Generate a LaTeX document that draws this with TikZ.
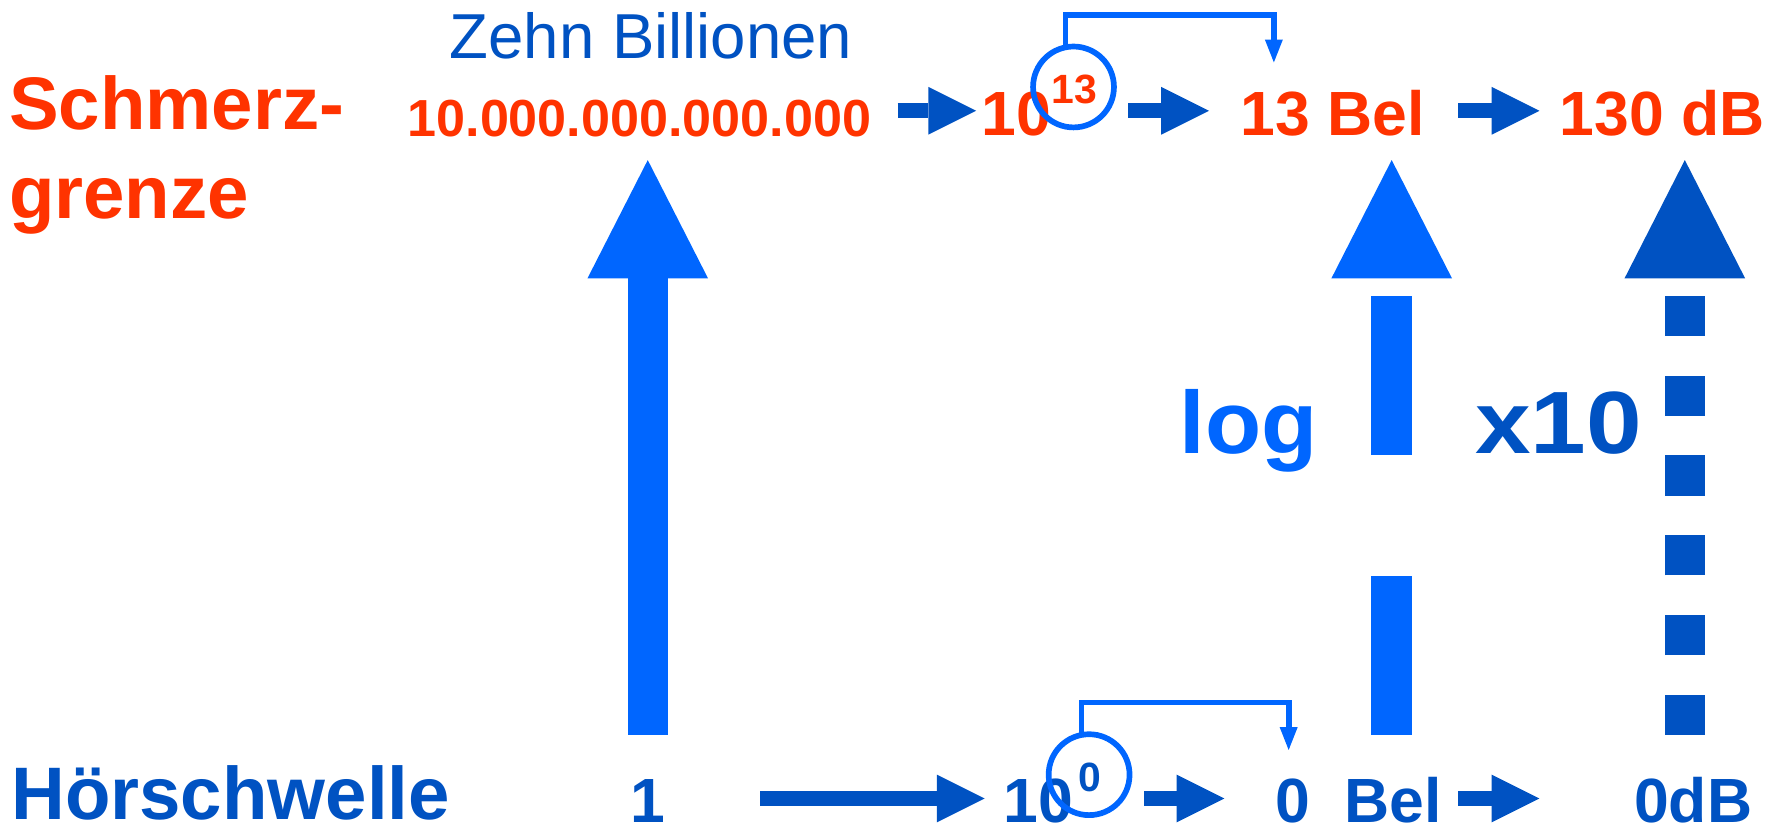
\documentclass[tikz,border=0pt]{standalone}
\usepackage{fontspec}
\usepackage{graphicx}
\setmainfont{Liberation Sans}
\usetikzlibrary{arrows.meta}
\definecolor{alarmred}{RGB}{255,51,0}
\definecolor{deepblue}{RGB}{0,82,194}
\definecolor{brightblue}{RGB}{0,102,255}
\newcommand{\sizept}[1]{\fontsize{#1pt}{#1pt}\selectfont}
\begin{document}
\begin{tikzpicture}[x=0.0228cm, y=-0.0228cm,
    every node/.style={inner sep=0pt, outer sep=0pt, font=\bfseries},
    side/.style={anchor=base west, font=\bfseries\sizept{42.4}},
    val/.style={anchor=base west, text height=0.97cm, text depth=0pt, font=\bfseries\sizept{35.6}},
    expo/.style={anchor=base west, font=\bfseries\sizept{23.3}},
    ring/.style={circle, draw=brightblue, line width=0.114cm, minimum size=1.62cm},
    flow/.style={deepblue, line width=0.308cm, -{Triangle[length=0.958cm, width=0.958cm, line width=0pt]}},
    jump/.style={brightblue, line width=0.114cm, -{Triangle[length=0.456cm, width=0.36cm, line width=0pt]}},
    lift/.style={line width=0.81cm, -{Triangle[length=2.371cm, width=2.417cm, line width=0pt]}}]
    \useasboundingbox (0,0) rectangle (1568,725.6);
    % left labels
    \node[side, alarmred] (schmerz) at (8,114) {Schmerz-};
    \node[side, alarmred] (grenze) at (8,191.8) {grenze};
    \node[side, deepblue] (hoer) at (10,719.7) {Hörschwelle};
    \node[anchor=base west, deepblue, font=\sizept{36.2}] (zehn) at (395,51.2) {Zehn Billionen};
    % upper row
    \node[val, alarmred, font=\bfseries\sizept{29.7}] (big) at (358,120) {10.000.000.000.000};
    \node[val, alarmred] (pow13) at (862,118.6) {10};
    \node[expo, alarmred] (sup13) at (924,91) {13};
    \node[ring] (ring13) at (943,76.4) {};
    \node[val, alarmred] (bel13) at (1090,118.6) {13 Bel};
    \node[val, alarmred] (db130) at (1370,118.6) {130 dB};
    % lower row
    \node[val, deepblue, anchor=base] (one) at (569,722.7) {1};
    \node[val, deepblue] (pow0) at (881.6,722.7) {10};
    \node[expo, deepblue] (sup0) at (947,695.4) {0};
    \node[ring] (ring0) at (956.7,680.5) {};
    \node[val, deepblue] (bel0) at (1120,722.7) {0~~Bel};
    \node[val, deepblue] (db0) at (1435.5,722.7) {0dB};
    % middle labels
    \node[anchor=base west, brightblue, font=\bfseries\sizept{50.4}] (log) at (1036.5,398) {\scalebox{1.04}[1]{log}};
    \node[anchor=base west, deepblue, font=\bfseries\sizept{50.4}] (xten) at (1296,398) {\scalebox{1.13}[1]{x10}};
    % horizontal arrows
    \draw[flow, shorten <=0.524cm, shorten >=0.103cm] (big.east |- pow13.west) -- (pow13.west);
    \draw[flow, shorten <=0.285cm, shorten >=0.638cm] (ring13.east |- bel13.west) -- (bel13.west);
    \draw[flow, shorten <=0.67cm, shorten >=0.404cm] (bel13) -- (db130);
    \draw[flow, shorten <=1.908cm, shorten >=0.378cm] (one) -- (pow0);
    \draw[flow, shorten <=0.299cm, shorten >=1.012cm] (ring0.east |- bel0.west) -- (bel0.west);
    \draw[flow, shorten <=0.335cm, shorten >=1.897cm] (bel0) -- (db0);
    % exponent brackets
    \coordinate (bend13) at (936,13);
    \coordinate (tip13) at (1119,54.8);
    \draw[jump] (ring13.north -| bend13) -- (bend13) -| (tip13);
    \coordinate (bend0) at (950,617);
    \coordinate (tip0) at (1132,658.8);
    \draw[jump] (ring0.north -| bend0) -- (bend0) -| (tip0);
    % vertical arrows
    \draw[lift, brightblue, shorten <=0.789cm, shorten >=0.47cm] (one.north) -- (one.north |- big.south);
    \coordinate (logfoot) at (1222.5,645.6);
    \coordinate (loghead) at (1222.5,140.6);
    \draw[lift, brightblue, dash pattern=on 3.19cm off 2.417cm] (logfoot) -- (loghead);
    \coordinate (tenfoot) at (1480,645.6);
    \coordinate (tenhead) at (1480,140.6);
    \draw[lift, deepblue, dash pattern=on 0.805cm off 0.793cm] (tenfoot) -- (tenhead);
\end{tikzpicture}
\end{document}
